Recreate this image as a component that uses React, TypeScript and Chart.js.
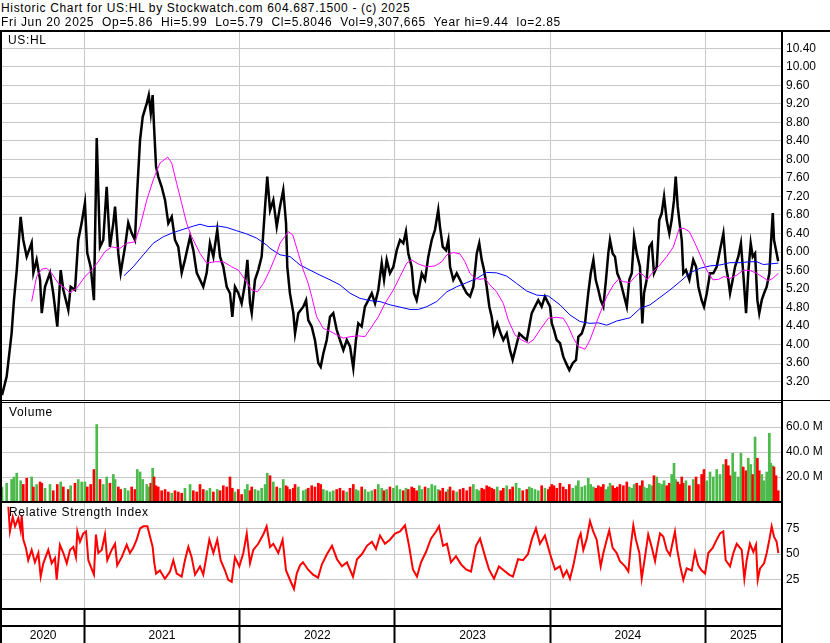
import React, { useEffect, useRef } from 'react';
import { Chart, registerables } from 'chart.js';

Chart.register(...registerables);

// ---------------- texts ----------------
const TITLE_LINE_1 = 'Historic Chart for US:HL by Stockwatch.com 604.687.1500 - (c) 2025';
const TITLE_LINE_2 = 'Fri Jun 20 2025  Op=5.86  Hi=5.99  Lo=5.79  Cl=5.8046  Vol=9,307,665  Year hi=9.44  lo=2.85';
const PRICE_PANEL_LABEL = 'US:HL';
const VOLUME_PANEL_LABEL = 'Volume';
const RSI_PANEL_LABEL = 'Relative Strength Index';

// ---------------- axes ----------------
const X_MIN = 2020.47;
const X_MAX = 2025.486;
const YEAR_BOUNDARIES = [2021, 2022, 2023, 2024, 2025];
const YEAR_LABELS = ['2020', '2021', '2022', '2023', '2024', '2025'];
const PRICE_MIN = 2.804;
const PRICE_MAX = 10.752;
const PRICE_TICKS = [3.2, 3.6, 4.0, 4.4, 4.8, 5.2, 5.6, 6.0, 6.4, 6.8, 7.2, 7.6, 8.0, 8.4, 8.8, 9.2, 9.6, 10.0, 10.4];
const VOLUME_MAX = 79.2; // millions
const VOLUME_TICKS = [20, 40, 60];
const RSI_MIN = -2.5;
const RSI_MAX = 99.7;
const RSI_TICKS = [25, 50, 75];

// ---------------- price (close) ----------------
const priceDates = [
  2020.470, 2020.500, 2020.532, 2020.547, 2020.565, 2020.590, 2020.607, 2020.629, 2020.661, 2020.672,
  2020.693, 2020.715, 2020.726, 2020.747, 2020.779, 2020.800, 2020.826, 2020.848, 2020.865, 2020.897,
  2020.912, 2020.940, 2020.961, 2020.983, 2021.004, 2021.019, 2021.041, 2021.062, 2021.080, 2021.101,
  2021.122, 2021.144, 2021.165, 2021.187, 2021.198, 2021.219, 2021.234, 2021.262, 2021.283, 2021.305,
  2021.326, 2021.341, 2021.359, 2021.376, 2021.402, 2021.415, 2021.428, 2021.440, 2021.449, 2021.462,
  2021.476, 2021.498, 2021.520, 2021.541, 2021.563, 2021.584, 2021.605, 2021.627, 2021.648, 2021.681,
  2021.702, 2021.724, 2021.745, 2021.766, 2021.788, 2021.809, 2021.831, 2021.856, 2021.874, 2021.895,
  2021.917, 2021.938, 2021.953, 2021.970, 2021.992, 2022.013, 2022.035, 2022.050, 2022.067, 2022.078,
  2022.099, 2022.120, 2022.142, 2022.164, 2022.178, 2022.196, 2022.217, 2022.239, 2022.260, 2022.281,
  2022.299, 2022.307, 2022.324, 2022.346, 2022.357, 2022.378, 2022.410, 2022.428, 2022.442, 2022.464,
  2022.485, 2022.507, 2022.522, 2022.539, 2022.561, 2022.582, 2022.603, 2022.625, 2022.646, 2022.668,
  2022.690, 2022.711, 2022.732, 2022.749, 2022.764, 2022.786, 2022.807, 2022.829, 2022.851, 2022.872,
  2022.893, 2022.915, 2022.930, 2022.947, 2022.968, 2022.990, 2023.012, 2023.033, 2023.054, 2023.071,
  2023.086, 2023.108, 2023.123, 2023.140, 2023.157, 2023.173, 2023.194, 2023.215, 2023.237, 2023.258,
  2023.279, 2023.290, 2023.308, 2023.329, 2023.344, 2023.355, 2023.376, 2023.398, 2023.419, 2023.440,
  2023.462, 2023.484, 2023.505, 2023.527, 2023.543, 2023.559, 2023.574, 2023.591, 2023.608, 2023.623,
  2023.638, 2023.659, 2023.681, 2023.698, 2023.720, 2023.741, 2023.758, 2023.780, 2023.801, 2023.823,
  2023.849, 2023.865, 2023.881, 2023.902, 2023.923, 2023.945, 2023.966, 2023.988, 2023.999, 2024.010,
  2024.024, 2024.042, 2024.063, 2024.084, 2024.102, 2024.123, 2024.145, 2024.166, 2024.181, 2024.203,
  2024.224, 2024.245, 2024.261, 2024.278, 2024.293, 2024.310, 2024.325, 2024.342, 2024.359, 2024.374,
  2024.385, 2024.402, 2024.417, 2024.432, 2024.449, 2024.471, 2024.493, 2024.509, 2024.525, 2024.540,
  2024.557, 2024.578, 2024.593, 2024.604, 2024.621, 2024.638, 2024.654, 2024.668, 2024.686, 2024.702,
  2024.718, 2024.733, 2024.750, 2024.767, 2024.782, 2024.797, 2024.808, 2024.821, 2024.836, 2024.847,
  2024.857, 2024.874, 2024.896, 2024.921, 2024.939, 2024.954, 2024.975, 2024.990, 2025.008, 2025.029,
  2025.050, 2025.072, 2025.093, 2025.115, 2025.132, 2025.147, 2025.158, 2025.175, 2025.190, 2025.211,
  2025.228, 2025.243, 2025.261, 2025.275, 2025.291, 2025.304, 2025.319, 2025.334, 2025.346, 2025.362,
  2025.377, 2025.394, 2025.411, 2025.420, 2025.433, 2025.441, 2025.454, 2025.468,
];
const priceClose = [
  2.91, 3.31, 4.25, 4.96, 5.61, 6.76, 6.26, 5.90, 6.20, 5.55,
  5.83, 5.40, 4.68, 5.25, 5.55, 5.11, 4.39, 5.61, 5.18, 4.75,
  5.25, 5.18, 6.26, 6.63, 7.06, 5.98, 5.68, 4.96, 8.46, 6.11,
  6.26, 7.41, 6.11, 6.63, 6.98, 5.97, 5.55, 6.11, 6.63, 6.41,
  6.26, 7.34, 8.42, 8.92, 9.21, 9.39, 9.00, 9.39, 8.71, 7.84,
  7.63, 7.41, 7.12, 6.62, 6.76, 6.26, 6.11, 5.55, 5.83, 6.33,
  6.04, 5.55, 5.40, 5.25, 5.55, 6.19, 5.90, 6.48, 5.90, 5.68,
  5.25, 5.11, 4.60, 5.25, 5.11, 4.89, 5.32, 5.83, 4.89, 4.68,
  5.40, 5.61, 5.90, 6.98, 7.63, 6.90, 7.12, 6.55, 6.98, 7.34,
  6.62, 5.68, 5.11, 4.68, 4.24, 4.68, 4.82, 4.96, 4.53, 4.39,
  4.10, 3.60, 3.52, 3.81, 4.10, 4.60, 4.68, 4.32, 4.10, 3.88,
  4.10, 3.96, 3.49, 4.10, 4.46, 4.39, 4.82, 4.96, 5.11, 4.89,
  5.18, 5.76, 5.40, 5.83, 5.54, 5.68, 6.04, 6.26, 6.19, 6.44,
  5.97, 5.68, 5.11, 4.96, 5.25, 5.54, 5.40, 5.90, 6.26, 6.48,
  6.91, 6.55, 6.11, 6.04, 6.26, 5.68, 5.40, 5.54, 5.40, 5.25,
  5.11, 5.04, 5.25, 5.97, 6.19, 5.83, 5.61, 5.25, 4.82, 4.60,
  4.24, 4.46, 4.24, 4.10, 4.24, 3.88, 3.67, 3.96, 4.24, 4.17,
  4.10, 4.39, 4.68, 4.82, 4.96, 4.82, 5.04, 4.89, 4.82, 4.46,
  4.32, 4.10, 4.03, 3.74, 3.60, 3.45, 3.60, 3.67, 4.17, 4.24,
  4.46, 5.11, 5.54, 5.83, 5.40, 5.18, 4.96, 4.82, 5.40, 5.97,
  6.26, 5.97, 5.90, 5.54, 5.40, 5.11, 4.82, 5.40, 5.54, 6.33,
  5.97, 5.68, 4.46, 5.11, 5.40, 6.11, 6.19, 5.54, 5.68, 6.69,
  6.84, 7.20, 6.69, 6.40, 6.69, 7.12, 7.63, 6.98, 6.55, 6.26,
  5.54, 5.61, 5.40, 5.83, 5.68, 5.25, 4.96, 4.82, 5.11, 5.54,
  5.54, 5.68, 6.04, 6.40, 5.68, 5.40, 5.11, 5.40, 5.68, 5.90,
  6.19, 5.54, 4.68, 5.54, 6.19, 5.90, 5.97, 4.96, 4.68, 4.96,
  5.11, 5.25, 5.54, 6.11, 6.84, 6.26, 6.04, 5.80,
];

// ---------------- moving averages ----------------
const ma50Dates = [
  2020.661, 2020.693, 2020.726, 2020.758, 2020.790, 2020.833, 2020.876, 2020.908, 2020.951, 2021.004,
  2021.048, 2021.090, 2021.133, 2021.176, 2021.230, 2021.273, 2021.326, 2021.359, 2021.402, 2021.444,
  2021.487, 2021.537, 2021.563, 2021.595, 2021.627, 2021.659, 2021.691, 2021.745, 2021.788, 2021.842,
  2021.895, 2021.949, 2021.992, 2022.035, 2022.078, 2022.114, 2022.153, 2022.196, 2022.239, 2022.260,
  2022.314, 2022.342, 2022.378, 2022.410, 2022.442, 2022.464, 2022.496, 2022.539, 2022.582, 2022.625,
  2022.668, 2022.711, 2022.764, 2022.807, 2022.851, 2022.893, 2022.936, 2022.990, 2023.033, 2023.076,
  2023.108, 2023.151, 2023.205, 2023.258, 2023.302, 2023.334, 2023.376, 2023.419, 2023.451, 2023.483,
  2023.516, 2023.548, 2023.580, 2023.612, 2023.655, 2023.698, 2023.730, 2023.773, 2023.816, 2023.859,
  2023.891, 2023.934, 2023.988, 2024.042, 2024.084, 2024.117, 2024.149, 2024.181, 2024.224, 2024.256,
  2024.288, 2024.321, 2024.364, 2024.407, 2024.439, 2024.471, 2024.514, 2024.546, 2024.574, 2024.600,
  2024.625, 2024.654, 2024.696, 2024.750, 2024.793, 2024.831, 2024.862, 2024.896, 2024.932, 2024.965,
  2025.008, 2025.047, 2025.083, 2025.119, 2025.158, 2025.201, 2025.244, 2025.286, 2025.330, 2025.372,
  2025.404, 2025.433, 2025.469,
];
const ma50 = [
  4.93, 5.47, 5.63, 5.65, 5.54, 5.32, 5.22, 5.12, 5.22, 5.47,
  5.61, 5.79, 6.01, 6.11, 6.08, 6.19, 6.22, 6.55, 7.12, 7.56,
  7.92, 8.05, 7.92, 7.48, 7.05, 6.62, 6.33, 5.97, 5.76, 5.79,
  5.79, 5.68, 5.61, 5.40, 5.18, 5.14, 5.32, 5.62, 5.97, 6.19,
  6.44, 6.37, 5.97, 5.61, 5.32, 5.04, 4.60, 4.35, 4.29, 4.21,
  4.14, 4.17, 4.19, 4.17, 4.39, 4.60, 4.89, 5.18, 5.47, 5.76,
  5.83, 5.74, 5.68, 5.70, 5.79, 5.94, 5.99, 5.96, 5.79, 5.54,
  5.43, 5.41, 5.43, 5.29, 5.14, 4.89, 4.53, 4.21, 4.10, 4.03,
  4.10, 4.32, 4.57, 4.59, 4.57, 4.39, 4.14, 3.96, 3.90, 4.10,
  4.39, 4.68, 5.04, 5.29, 5.41, 5.36, 5.34, 5.47, 5.55, 5.50,
  5.40, 5.54, 5.68, 5.90, 6.11, 6.51, 6.51, 6.44, 6.19, 5.94,
  5.61, 5.40, 5.41, 5.47, 5.43, 5.50, 5.61, 5.60, 5.54, 5.45,
  5.38, 5.43, 5.54,
];
const ma200Dates = [
  2021.256, 2021.315, 2021.380, 2021.444, 2021.509, 2021.573, 2021.637, 2021.702, 2021.745, 2021.798,
  2021.863, 2021.917, 2021.981, 2022.046, 2022.110, 2022.174, 2022.196, 2022.260, 2022.325, 2022.389,
  2022.453, 2022.518, 2022.582, 2022.646, 2022.711, 2022.775, 2022.840, 2022.904, 2022.968, 2023.033,
  2023.097, 2023.151, 2023.205, 2023.269, 2023.334, 2023.398, 2023.463, 2023.527, 2023.591, 2023.655,
  2023.720, 2023.784, 2023.848, 2023.913, 2023.988, 2024.063, 2024.127, 2024.191, 2024.256, 2024.309,
  2024.364, 2024.428, 2024.514, 2024.578, 2024.643, 2024.707, 2024.771, 2024.836, 2024.900, 2024.965,
  2025.029, 2025.093, 2025.158, 2025.222, 2025.286, 2025.330, 2025.372, 2025.469,
];
const ma200 = [
  5.49, 5.68, 5.94, 6.19, 6.33, 6.42, 6.49, 6.56, 6.60, 6.55,
  6.56, 6.53, 6.46, 6.39, 6.30, 6.15, 6.08, 5.94, 5.90, 5.72,
  5.61, 5.50, 5.40, 5.29, 5.11, 5.00, 4.95, 4.93, 4.86, 4.81,
  4.76, 4.76, 4.82, 4.93, 5.14, 5.25, 5.34, 5.43, 5.56, 5.55,
  5.48, 5.32, 5.16, 5.07, 5.05, 4.86, 4.64, 4.50, 4.46, 4.47,
  4.42, 4.51, 4.58, 4.78, 4.86, 5.02, 5.18, 5.36, 5.55, 5.65,
  5.70, 5.72, 5.77, 5.77, 5.79, 5.79, 5.73, 5.76,
];

// ---------------- volume (millions, at priceDates) ----------------
const volumeM = [
  12, 15, 18, 20, 23, 17, 14, 19, 20, 12, 14, 16, 15, 11, 14, 9, 14, 16, 12, 10, 13, 15, 18, 16,
  16, 12, 14, 26, 62, 18, 14, 20, 15, 22, 18, 12, 10, 11, 9, 12, 10, 26, 24, 18, 14, 12, 15, 27, 20, 13,
  12, 9, 10, 8, 7, 9, 8, 7, 11, 14, 9, 8, 14, 10, 9, 11, 8, 10, 9, 13, 12, 20, 11, 8, 10,
  6, 10, 14, 9, 12, 10, 9, 11, 14, 23, 21, 16, 12, 11, 18, 13, 12, 10, 11, 14, 12, 9, 10, 11, 13,
  12, 15, 14, 10, 9, 8, 9, 10, 11, 9, 8, 11, 14, 10, 9, 12, 10, 8, 9, 10, 14, 11, 9, 10, 12, 11, 13, 10, 9, 11,
  10, 12, 11, 9, 13, 10, 12, 11, 14, 13, 10, 9, 11, 8, 10, 12, 9, 8, 10, 11, 9, 12, 14, 10, 9, 11, 10, 13, 12, 11,
  10, 12, 9, 11, 13, 10, 12, 15, 11, 9, 10, 12, 11, 10, 9, 13, 11, 10, 12, 14, 13, 11, 15, 12, 10, 14, 11, 13, 17, 12,
  13, 19, 14, 12, 11, 13, 12, 14, 10, 12, 15, 13, 11, 12, 14, 13, 16, 12, 11, 14, 15, 13, 17, 12, 11, 14, 13, 21, 20, 15,
  14, 17, 13, 15, 22, 31, 18, 16, 14, 20, 15, 17, 13, 18, 20, 14, 22, 26, 17, 24, 20, 26, 22, 30, 34,
  29, 21, 39, 24, 20, 39, 28, 25, 35, 30, 22, 52, 35, 25, 22, 17, 24, 55, 31, 29, 28, 21, 9,
];

// ---------------- RSI ----------------
const rsiDates = [
  2020.511, 2020.521, 2020.539, 2020.554, 2020.575, 2020.590, 2020.597, 2020.607, 2020.624, 2020.639,
  2020.661, 2020.682, 2020.704, 2020.719, 2020.736, 2020.768, 2020.790, 2020.811, 2020.822, 2020.843,
  2020.865, 2020.887, 2020.908, 2020.929, 2020.946, 2020.955, 2020.972, 2020.993, 2021.011, 2021.026,
  2021.041, 2021.062, 2021.075, 2021.090, 2021.112, 2021.133, 2021.148, 2021.176, 2021.198, 2021.212,
  2021.241, 2021.273, 2021.294, 2021.315, 2021.337, 2021.359, 2021.380, 2021.406, 2021.423, 2021.440,
  2021.451, 2021.462, 2021.487, 2021.519, 2021.552, 2021.573, 2021.595, 2021.627, 2021.648, 2021.670,
  2021.691, 2021.713, 2021.745, 2021.766, 2021.805, 2021.831, 2021.856, 2021.878, 2021.906, 2021.927,
  2021.949, 2021.970, 2021.998, 2022.024, 2022.046, 2022.067, 2022.088, 2022.120, 2022.152, 2022.174,
  2022.196, 2022.217, 2022.249, 2022.277, 2022.299, 2022.324, 2022.350, 2022.368, 2022.389, 2022.408,
  2022.440, 2022.473, 2022.505, 2022.530, 2022.563, 2022.595, 2022.627, 2022.659, 2022.691, 2022.730,
  2022.756, 2022.788, 2022.820, 2022.852, 2022.878, 2022.904, 2022.936, 2022.968, 2023.001, 2023.033,
  2023.065, 2023.091, 2023.116, 2023.142, 2023.168, 2023.200, 2023.232, 2023.265, 2023.284, 2023.310,
  2023.335, 2023.361, 2023.393, 2023.426, 2023.458, 2023.490, 2023.522, 2023.548, 2023.580, 2023.606,
  2023.638, 2023.670, 2023.702, 2023.735, 2023.760, 2023.793, 2023.825, 2023.857, 2023.883, 2023.908,
  2023.934, 2023.966, 2023.999, 2024.031, 2024.063, 2024.084, 2024.106, 2024.127, 2024.149, 2024.166,
  2024.181, 2024.196, 2024.213, 2024.235, 2024.256, 2024.277, 2024.299, 2024.325, 2024.342, 2024.364,
  2024.380, 2024.402, 2024.428, 2024.449, 2024.482, 2024.503, 2024.518, 2024.535, 2024.552, 2024.574,
  2024.589, 2024.610, 2024.631, 2024.653, 2024.675, 2024.689, 2024.707, 2024.728, 2024.750, 2024.771,
  2024.803, 2024.818, 2024.836, 2024.857, 2024.879, 2024.911, 2024.932, 2024.953, 2024.975, 2024.997,
  2025.018, 2025.046, 2025.072, 2025.093, 2025.114, 2025.130, 2025.158, 2025.179, 2025.201, 2025.233,
  2025.250, 2025.265, 2025.286, 2025.308, 2025.325, 2025.336, 2025.351, 2025.377, 2025.394, 2025.411,
  2025.426, 2025.441, 2025.458, 2025.469,
];
const rsiValues = [
  96, 72, 86, 77, 85, 73, 88, 64, 56, 44,
  54, 42, 51, 28, 41, 54, 41, 46, 25, 59,
  51, 41, 54, 57, 47, 72, 62, 70, 72, 44,
  38, 30, 69, 51, 54, 69, 44, 54, 60, 39,
  47, 59, 51, 56, 64, 75, 77, 77, 67, 57,
  41, 31, 34, 26, 33, 44, 31, 28, 44, 57,
  47, 30, 38, 30, 64, 51, 64, 44, 34, 25,
  23, 47, 38, 51, 70, 41, 54, 60, 69, 77,
  57, 60, 51, 64, 34, 25, 16, 31, 39, 42,
  35, 30, 27, 40, 50, 58, 45, 38, 42, 28,
  45, 50, 58, 62, 55, 68, 60, 64, 70, 72,
  78, 58, 35, 28, 42, 52, 65, 72, 77, 58,
  60, 42, 48, 40, 35, 33, 58, 65, 48, 35,
  26, 38, 34, 30, 28, 45, 44, 50, 65, 75,
  60, 68, 50, 35, 38, 28, 34, 26, 39, 52,
  64, 70, 54, 65, 82, 72, 64, 38, 51, 64,
  73, 56, 51, 43, 38, 33, 57, 78, 64, 51,
  26, 47, 69, 57, 43, 56, 70, 67, 54, 49,
  72, 54, 39, 25, 36, 34, 52, 39, 34, 31,
  51, 56, 64, 70, 72, 44, 38, 51, 60, 54,
  26, 44, 60, 52, 59, 25, 36, 41, 51, 64,
  77, 67, 62, 51,
];

// ---------------- styles ----------------
const W = 830;
const H = 643;
const PLOT_RIGHT = 781;
const AXIS_W = W - PLOT_RIGHT;
const FONT = "'Liberation Sans', Arial, Helvetica, sans-serif";
const GRID = '#c8c8c8';
const UP = '#4cbb4c';
const DOWN = '#ff0000';

Chart.defaults.font.family = FONT;

const pts = (xs: number[], ys: number[]) => xs.map((x, i) => ({ x, y: ys[i] }));

const commonOptions = () => ({
  animation: false as const,
  responsive: false,
  devicePixelRatio: 1,
  events: [] as any[],
  layout: { autoPadding: false, padding: { left: 2, right: 0, top: 0, bottom: 0 } },
  plugins: { legend: { display: false }, tooltip: { enabled: false }, title: { display: false } },
});

const xGridOnly = () => ({
  type: 'linear' as const,
  min: X_MIN,
  max: X_MAX,
  bounds: 'data' as const,
  offset: false,
  afterBuildTicks: (s: any) => {
    s.ticks = YEAR_BOUNDARIES.map((v) => ({ value: v }));
  },
  afterFit: (s: any) => {
    s.height = 0;
    s.paddingLeft = 0;
    s.paddingRight = 0;
  },
  ticks: { display: false, autoSkip: false },
  grid: { color: GRID, lineWidth: 1, drawTicks: false, offset: false },
  border: { display: false },
});

const yRight = (min: number, max: number, ticks: number[], fmt: (v: number) => string) => ({
  type: 'linear' as const,
  position: 'right' as const,
  min,
  max,
  bounds: 'data' as const,
  afterBuildTicks: (s: any) => {
    s.ticks = ticks.map((v) => ({ value: v }));
  },
  afterFit: (s: any) => {
    s.width = AXIS_W;
    s.paddingTop = 0;
    s.paddingBottom = 0;
  },
  ticks: {
    autoSkip: false,
    padding: 5,
    color: '#000',
    font: { family: FONT, size: 12 },
    callback: (v: any) => fmt(Number(v)),
  },
  grid: { color: GRID, lineWidth: 1, drawTicks: false },
  border: { display: false },
});

function priceConfig(): any {
  return {
    type: 'line',
    data: {
      datasets: [
        { label: 'MA short', data: pts(ma50Dates, ma50), borderColor: '#ff00ff', borderWidth: 1, pointRadius: 0, order: 1 },
        { label: 'MA long', data: pts(ma200Dates, ma200), borderColor: '#0000ff', borderWidth: 1, pointRadius: 0, order: 2 },
        { label: 'US:HL', data: pts(priceDates, priceClose), borderColor: '#000000', borderWidth: 2.5, pointRadius: 0, order: 3 },
      ],
    },
    options: {
      ...commonOptions(),
      scales: {
        x: xGridOnly(),
        y: yRight(PRICE_MIN, PRICE_MAX, PRICE_TICKS, (v) => v.toFixed(2)),
      },
    },
  };
}

function volumeConfig(): any {
  const colors = priceClose.map((c, i) => (i === 0 || c >= priceClose[i - 1] ? UP : DOWN));
  return {
    type: 'bar',
    data: {
      datasets: [
        {
          label: 'Volume',
          data: pts(priceDates, volumeM),
          backgroundColor: colors,
          borderWidth: 0,
          barThickness: 2,
        },
      ],
    },
    options: {
      ...commonOptions(),
      scales: {
        x: xGridOnly(),
        y: yRight(0, VOLUME_MAX, VOLUME_TICKS, (v) => v.toFixed(1) + ' M'),
      },
    },
  };
}

function rsiConfig(): any {
  const isBoundary = (v: number) => YEAR_BOUNDARIES.includes(v);
  const labelPositions = YEAR_LABELS.map((y) => {
    const start = Math.max(Number(y), X_MIN);
    const end = Math.min(Number(y) + 1, X_MAX);
    return (start + end) / 2;
  });
  const allTicks = [...YEAR_BOUNDARIES, ...labelPositions].sort((a, b) => a - b);
  return {
    type: 'line',
    data: {
      datasets: [
        { label: 'RSI', data: pts(rsiDates, rsiValues), borderColor: '#ff0000', borderWidth: 2, pointRadius: 0 },
      ],
    },
    options: {
      ...commonOptions(),
      scales: {
        x: {
          type: 'linear',
          min: X_MIN,
          max: X_MAX,
          bounds: 'data',
          offset: false,
          afterBuildTicks: (s: any) => {
            s.ticks = allTicks.map((v) => ({ value: v }));
          },
          afterFit: (s: any) => {
            s.height = 35;
            s.paddingLeft = 0;
            s.paddingRight = 0;
          },
          ticks: {
            autoSkip: false,
            maxRotation: 0,
            minRotation: 0,
            padding: -15,
            color: '#000',
            font: { family: FONT, size: 12 },
            callback: (v: any) => {
              const n = Number(v);
              if (isBoundary(n)) return '';
              const idx = labelPositions.indexOf(n);
              return idx >= 0 ? YEAR_LABELS[idx] : '';
            },
          },
          grid: {
            color: (ctx: any) => (ctx.tick && isBoundary(ctx.tick.value) ? GRID : 'rgba(0,0,0,0)'),
            lineWidth: (ctx: any) => (ctx.tick && isBoundary(ctx.tick.value) ? 1 : 0),
            drawTicks: true,
            tickLength: 35,
            tickWidth: 2,
            tickColor: (ctx: any) => (ctx.tick && isBoundary(ctx.tick.value) ? '#000' : 'rgba(0,0,0,0)'),
            offset: false,
          },
          border: { display: false },
        },
        y: yRight(RSI_MIN, RSI_MAX, RSI_TICKS, (v) => String(v)),
      },
    },
  };
}

function ChartCanvas({ top, height, build }: { top: number; height: number; build: () => any }) {
  const ref = useRef<HTMLCanvasElement | null>(null);
  useEffect(() => {
    if (!ref.current) return;
    const chart = new Chart(ref.current, build());
    return () => chart.destroy();
  }, []);
  return (
    <canvas
      ref={ref}
      width={W}
      height={height}
      style={{ position: 'absolute', left: 0, top, width: W, height, display: 'block' }}
    />
  );
}

const FRAME_LINES = [
  { l: 0, t: 30, w: W, h: 2 },
  { l: 0, t: 30, w: 2, h: H - 30 },
  { l: PLOT_RIGHT, t: 30, w: 2, h: H - 30 },
  { l: 0, t: 400, w: W, h: 1 },
  { l: 0, t: 402, w: PLOT_RIGHT, h: 1 },
  { l: 0, t: 501, w: PLOT_RIGHT, h: 2 },
  { l: 0, t: 608, w: PLOT_RIGHT, h: 2 },
  { l: 0, t: 625, w: PLOT_RIGHT, h: 2 },
];

const textStyle: React.CSSProperties = {
  position: 'absolute',
  fontFamily: FONT,
  fontSize: 12,
  lineHeight: '14px',
  color: '#000',
  whiteSpace: 'pre',
  letterSpacing: '0.65px',
};

export default function App() {
  return (
    <div style={{ position: 'absolute', left: 0, top: 0, width: W, height: H, background: '#fff', overflow: 'hidden' }}>
      <ChartCanvas top={32} height={368} build={priceConfig} />
      <ChartCanvas top={403} height={99} build={volumeConfig} />
      <ChartCanvas top={503} height={140} build={rsiConfig} />
      {FRAME_LINES.map((f, i) => (
        <div key={i} style={{ position: 'absolute', left: f.l, top: f.t, width: f.w, height: f.h, background: '#000' }} />
      ))}
      <div style={{ ...textStyle, left: 1, top: 1 }}>{TITLE_LINE_1}</div>
      <div style={{ ...textStyle, left: 1, top: 15 }}>{TITLE_LINE_2}</div>
      <div style={{ ...textStyle, left: 8, top: 33 }}>{PRICE_PANEL_LABEL}</div>
      <div style={{ ...textStyle, left: 9, top: 405 }}>{VOLUME_PANEL_LABEL}</div>
      <div style={{ ...textStyle, left: 9, top: 505 }}>{RSI_PANEL_LABEL}</div>
    </div>
  );
}
